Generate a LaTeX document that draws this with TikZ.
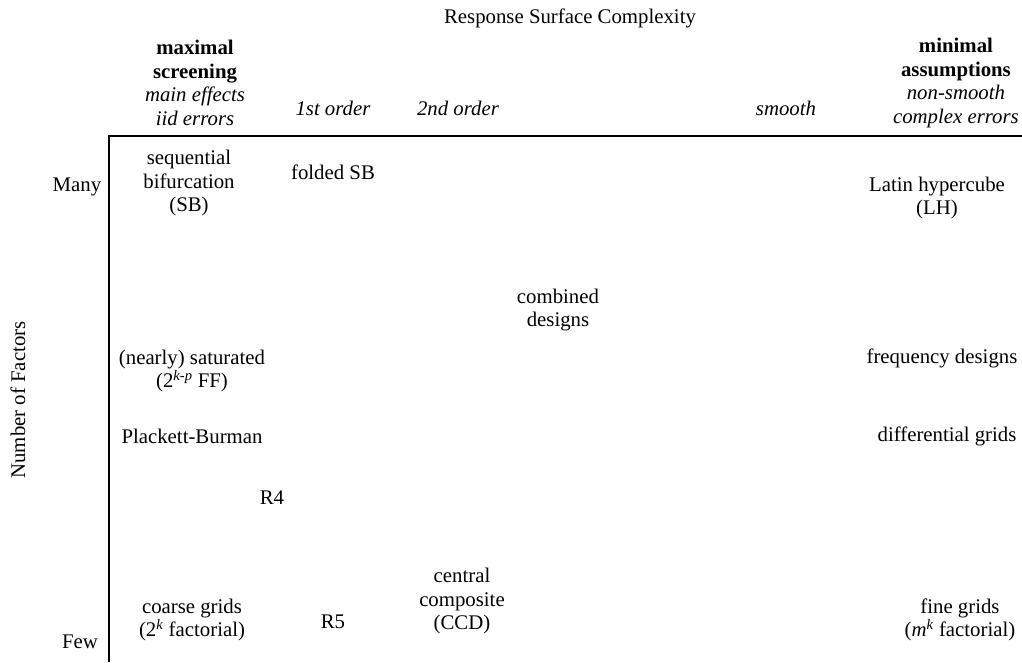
\documentclass[tikz,border=0pt]{standalone}
\usepackage{fontspec}
\setmainfont{Liberation Serif}
\begin{document}
\begin{tikzpicture}[x=1pt,y=-1pt,
  lbl/.style={inner sep=0pt,align=center,font=\fontsize{20.8}{23.6}\selectfont},
  axis/.style={line width=1.4pt}]
\useasboundingbox (0,0) rectangle (1022,662);
\node[lbl] (title) at (570,18) {Response Surface Complexity};
\node[lbl] (maxs) at (195,83) {\textbf{maximal}\\\textbf{screening}\\\textit{main effects}\\\textit{iid errors}};
\node[lbl] (first) at (333,108) {\textit{1st order}};
\node[lbl] (second) at (458,108) {\textit{2nd order}};
\node[lbl] (smooth) at (786,108) {\textit{smooth}};
\node[lbl,anchor=east] (mina) at (1019,83) {\textbf{minimal}\\\textbf{assumptions}\\\textit{non-smooth}\\\textit{complex errors}};
\coordinate (corner) at (109,136);
\coordinate (right) at (1022,136);
\coordinate (bottom) at (109,662);
\draw[axis] (right) -- (corner) -- (bottom);
\node[lbl] (many) at (77,187) {Many};
\node[lbl] (few) at (80,642) {Few};
\node[lbl,rotate=90] (nf) at (18,400) {Number of Factors};
\node[lbl] (sb) at (189,183) {sequential\\bifurcation\\(SB)};
\node[lbl] (fsb) at (333,172) {folded SB};
\node[lbl] (lh) at (937,198) {Latin hypercube\\(LH)};
\node[lbl] (comb) at (558,310) {combined\\designs};
\node[lbl] (sat) at (192,371) {(nearly) saturated\\(2\textsuperscript{\textit{k-p}} FF)};
\node[lbl] (freq) at (942,358) {frequency designs};
\node[lbl] (pb) at (192,436) {Plackett-Burman};
\node[lbl] (diff) at (947,436) {differential grids};
\node[lbl] (r4) at (272,498) {R4};
\node[lbl] (ccd) at (462,601) {central\\composite\\(CCD)};
\node[lbl] (coarse) at (192,620) {coarse grids\\(2\textsuperscript{\textit{k}} factorial)};
\node[lbl] (r5) at (333,622) {R5};
\node[lbl] (fine) at (960,620) {fine grids\\(\textit{m}\textsuperscript{\textit{k}} factorial)};
\end{tikzpicture}
\end{document}
